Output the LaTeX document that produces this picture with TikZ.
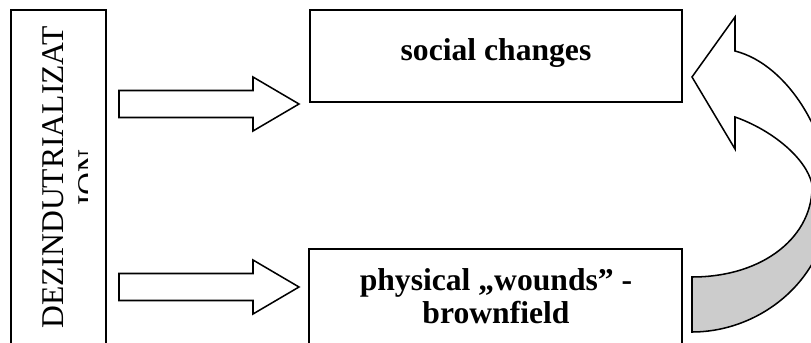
\documentclass[tikz,border=0pt]{standalone}
\usepackage{fontspec}
\setmainfont{Liberation Serif}

\tikzset{
    frame/.style={draw, line width=1.5pt, inner sep=0pt},
    blockarrow/.style={draw, line width=1.3pt, fill=white, line join=miter},
    boldtext/.style={font=\fontsize{27pt}{28.2pt}\selectfont\bfseries, align=center, inner sep=0pt},
}

\begin{document}
\begin{tikzpicture}[x=0.03cm, y=-0.03cm]
        \clip (0,0) rectangle (811,343);
        % Caja izquierda
        \node[frame, minimum width=2.85cm, minimum height=10.5cm] (dezbox) at (58.5,185) {};
        % Texto girado, cortado por el margen
        \begin{scope}
            \clip (11,10) rectangle (87,343);
            \node[rotate=90, anchor=north, inner sep=0pt, align=center,
                  font=\fontsize{27pt}{30.7pt}\selectfont] (dez) at (42,177.5) {DEZINDUTRIALIZAT\\ION};
        \end{scope}

        % Caja social
        \node[frame, minimum width=11.16cm, minimum height=2.76cm] (social) at (496,56) {};
        \node[boldtext] (socialtext) at (496,52.6) {social changes};

        % Caja fisica
        \node[frame, minimum width=11.19cm, minimum height=3.33cm] (physical) at (495.5,304.5) {};
        \node[boldtext] (physicaltext) at (496,295.7) {physical „wounds” -\\brownfield};

        % Flechas de bloque
        \draw[blockarrow] (119,90.5) -- (253,90.5) -- (253,77) -- (299,104) -- (253,131) -- (253,117.5) -- (119,117.5) -- cycle;
        \draw[blockarrow] (119,273.5) -- (253,273.5) -- (253,260) -- (299,287) -- (253,314) -- (253,300.5) -- (119,300.5) -- cycle;

        % Flecha curva: parte trasera
        \draw[line width=1.3pt, fill=black!20] (692,277) .. controls (765,277) and (814,235) .. (812,184)
            -- (830,200) .. controls (828,280) and (760,332) .. (692,332) -- cycle;
        % Flecha curva: parte delantera con punta
        \draw[blockarrow] (735,117) -- (735,149) -- (692,77) -- (735,17) -- (735,51)
            .. controls (790,65) and (832,140) .. (830,200) -- (812,184)
            .. controls (806,158) and (772,130) .. (735,117) -- cycle;
    \end{tikzpicture}
\end{document}
